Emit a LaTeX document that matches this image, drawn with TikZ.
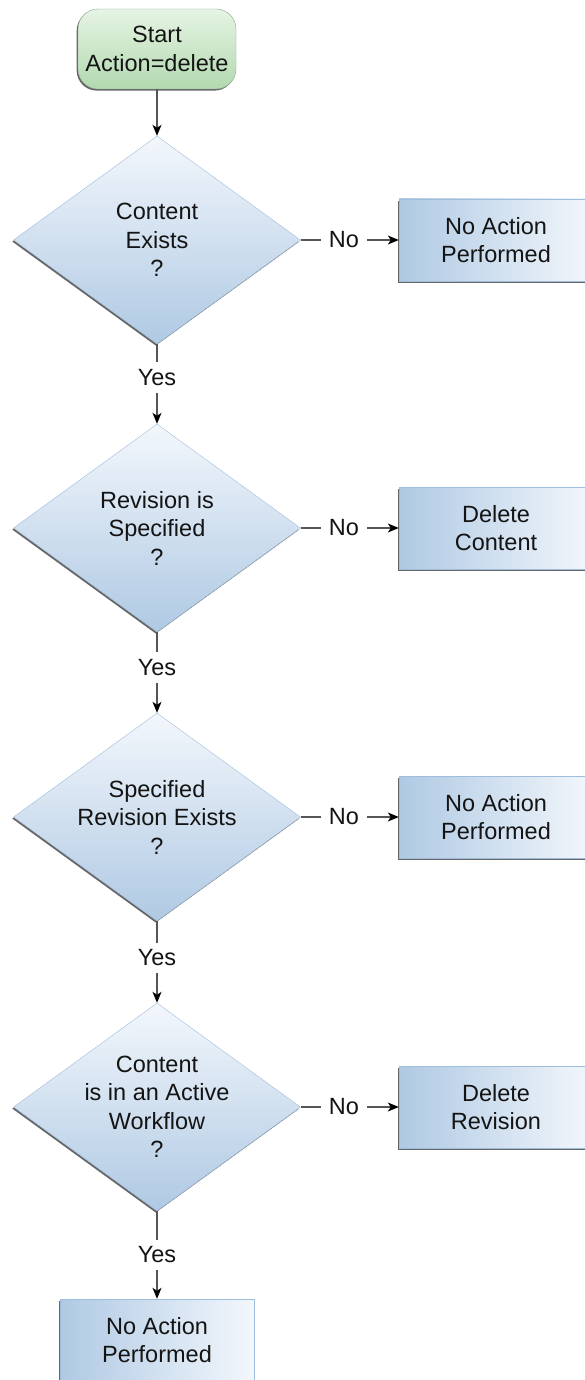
\documentclass[tikz,border=0pt]{standalone}
\usepackage{fontspec}
\setmainfont{Liberation Sans}
\usetikzlibrary{shapes.geometric, shadows, arrows.meta}

\definecolor{boxdark}{HTML}{AFC9E3}
\definecolor{boxlight}{HTML}{F3F7FC}
\definecolor{boxedge}{HTML}{A0BEDC}
\definecolor{startdark}{HTML}{B2D9AF}
\definecolor{startlight}{HTML}{E6F4E4}
\definecolor{startedge}{HTML}{8CA78A}
\definecolor{flowline}{HTML}{555555}

\begin{document}
\begin{tikzpicture}[x=1pt, y=-1pt,
  every node/.style={font=\fontsize{23.5}{28.5}\selectfont, text=black!92, align=center},
  dshadow/.style={drop shadow={shadow xshift=-1.3pt, shadow yshift=-1.6pt, fill=black!60, opacity=1}},
  startbox/.style={draw=startedge, rectangle, rounded corners=20pt, minimum width=158pt, minimum height=80pt, top color=startlight, bottom color=startdark, dshadow},
  decision/.style={draw=boxedge, diamond, aspect=1.38, inner sep=-8pt, minimum width=287pt, minimum height=208pt, top color=boxlight, bottom color=boxdark, dshadow},
  outcome/.style={draw=boxedge, rectangle, minimum width=194pt, minimum height=82pt, left color=boxdark, right color=boxlight, dshadow},
  flow/.style={draw=flowline, line width=1.2pt, -{Stealth[length=11pt, width=9pt, inset=3pt, color=black]}},
  answer/.style={fill=white, inner xsep=8pt, inner ysep=7pt}]

  \useasboundingbox (0,0) rectangle (585,1380);

  % --- Start node ---
  \node[startbox] (start) at (157,49) {Start\\Action=delete};

  % --- Decisions (left column) ---
  \node[decision] (exists) at (157,240) {Content\\Exists\\?};
  \node[decision] (specified) at (157,528) {Revision is\\Specified\\?};
  \node[decision] (revexists) at (157,817) {Specified\\Revision Exists\\?};
  \node[decision] (workflow) at (157,1107) {Content\\is in an Active\\Workflow\\?};

  % --- Outcomes (right column) ---
  \node[outcome] (noaction1) at (496,240) {No Action\\Performed};
  \node[outcome] (delcontent) at (496,528) {Delete\\Content};
  \node[outcome] (noaction2) at (496,817) {No Action\\Performed};
  \node[outcome] (delrevision) at (496,1107) {Delete\\Revision};

  % --- Last outcome ---
  \node[outcome] (noaction3) at (157,1340) {No Action\\Performed};

  % --- Yes branch ---
  \draw[flow] (start) -- (exists);
  \draw[flow] (exists) -- node[answer, pos=0.42] {Yes} (specified);
  \draw[flow] (specified) -- node[answer, pos=0.44] {Yes} (revexists);
  \draw[flow] (revexists) -- node[answer, pos=0.45] {Yes} (workflow);
  \draw[flow] (workflow) -- node[answer, pos=0.5] {Yes} (noaction3);

  % --- No branch ---
  \draw[flow] (exists) -- node[answer, pos=0.44] {No} (noaction1);
  \draw[flow] (specified) -- node[answer, pos=0.44] {No} (delcontent);
  \draw[flow] (revexists) -- node[answer, pos=0.44] {No} (noaction2);
  \draw[flow] (workflow) -- node[answer, pos=0.44] {No} (delrevision);

\end{tikzpicture}
\end{document}
